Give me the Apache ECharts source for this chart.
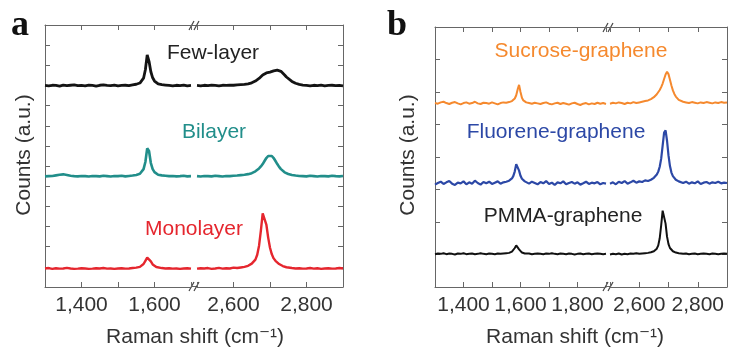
<!DOCTYPE html>
<html>
<head>
<meta charset="utf-8">
<script src="https://cdn.jsdelivr.net/npm/echarts@6/dist/echarts.min.js"></script>
<style>
html, body { margin: 0; padding: 0; background: #fff; }
#chart { width: 730px; height: 347px; }
</style>
</head>
<body>
<div id="chart"></div>
<script>
// Raman shift sample positions (cm-1), one list per axis segment
var xaLeft = [1300,1310,1320,1330,1340,1350,1360,1370,1380,1390,1400,1410,1420,1430,1440,1450,1460,1470,1480,1490,1500,1510,1520,1530,1540,1550,1560,
    1565,1570,1575,1580,1585,1590,1595,1600,1605,
    1610,1620,1630,1640,1650,1660,1670,1680,1690,1700];
var xaRight = [2500,2510,2520,2530,2540,2550,2560,2570,2580,2590,2600,2610,2620,2630,2640,
    2645,2650,2655,2660,2665,2670,2675,2680,2685,2690,2695,2700,2705,2710,2715,2720,2725,2730,2735,2740,2745,
    2750,2760,2770,2780,2790,2800,2810,2820,2830,2840,2850,2860,2870,2880,2890,2900];
var xbLeft = [1300,1310,1320,1330,1340,1350,1360,1370,1380,1390,1400,1410,1420,1430,1440,1450,1460,1470,1480,1490,1500,1510,1520,1530,1540,1550,1560,
    1565,1570,1575,1580,1585,1590,1595,1600,1605,1610,1615,
    1620,1630,1640,1650,1660,1670,1680,1690,1700,1710,1720,1730,1740,1750,1760,1770,1780,1790,1800,1810,1820,1830,1840,1850,1860,1870,1880,1890,1900];
var xbRight = [2500,2510,2520,2530,2540,2550,2560,2570,2580,2590,2600,2610,2620,2630,2640,
    2645,2650,2655,2660,2665,2670,2675,2680,2685,2690,2695,2700,2705,2710,2715,2720,2725,2730,2735,2740,
    2750,2760,2770,2780,2790,2800,2810,2820,2830,2840,2850,2860,2870,2880,2890,2900];

// panel a counts (a.u., offset stacked)
var fewLeft = [10.00,9.98,10.01,10.00,9.97,10.02,9.99,10.01,10.03,9.99,10.00,9.98,10.02,10.00,9.97,10.01,10.03,10.00,9.99,10.02,9.98,10.00,10.01,9.99,10.03,10.06,10.12,
    10.20,10.36,10.78,11.52,11.20,10.68,10.38,10.22,10.13,
    10.08,10.04,10.02,10.00,9.98,10.01,9.99,10.02,9.98,10.00];
var fewRight = [10.00,9.98,10.01,9.99,10.02,10.00,9.98,10.01,10.00,10.02,10.01,10.03,10.04,10.05,10.08,
    10.10,10.13,10.17,10.22,10.28,10.35,10.43,10.52,10.58,10.62,10.63,10.66,10.68,10.72,10.75,10.76,10.74,10.70,10.62,10.52,10.42,
    10.33,10.20,10.11,10.05,10.02,10.00,9.98,10.01,9.99,10.02,9.98,10.00,10.01,9.99,10.00,9.98];
var biLeft = [5.49,5.50,5.51,5.54,5.57,5.59,5.56,5.52,5.50,5.49,5.51,5.50,5.48,5.51,5.50,5.49,5.52,5.50,5.48,5.51,5.50,5.52,5.49,5.51,5.53,5.56,5.62,
    5.70,5.85,6.20,6.88,6.75,6.15,5.85,5.70,5.62,
    5.57,5.54,5.52,5.50,5.51,5.49,5.50,5.52,5.49,5.50];
var biRight = [5.50,5.48,5.51,5.50,5.49,5.52,5.50,5.48,5.51,5.50,5.52,5.53,5.55,5.57,5.60,
    5.62,5.65,5.69,5.74,5.80,5.88,5.98,6.10,6.25,6.40,6.50,6.55,6.50,6.40,6.25,6.10,5.96,5.85,5.76,5.69,5.64,
    5.61,5.56,5.53,5.51,5.50,5.49,5.52,5.50,5.48,5.51,5.50,5.49,5.52,5.50,5.49,5.51];
var monoLeft = [0.92,0.94,0.90,0.93,0.91,0.92,0.95,0.92,0.90,0.91,0.93,0.92,0.90,0.91,0.93,0.92,0.94,0.91,0.92,0.90,0.92,0.93,0.91,0.92,0.94,0.96,1.00,
    1.05,1.14,1.30,1.46,1.42,1.27,1.12,1.04,0.99,
    0.96,0.94,0.92,0.93,0.91,0.92,0.90,0.92,0.93,0.91];
var monoRight = [0.91,0.93,0.92,0.94,0.90,0.92,0.95,0.91,0.93,0.92,0.96,0.94,0.97,1.00,1.05,
    1.10,1.16,1.24,1.36,1.60,2.05,2.80,3.65,3.72,3.10,2.45,1.95,1.62,1.42,1.30,1.21,1.14,1.08,1.04,1.00,0.98,
    0.96,0.94,0.92,0.93,0.91,0.92,0.94,0.91,0.93,0.90,0.92,0.93,0.91,0.92,0.94,0.92];

// panel b counts
var sucLeft = [5.66,5.64,5.68,5.70,5.66,5.63,5.67,5.69,5.65,5.62,5.66,5.68,5.64,5.66,5.70,5.65,5.63,5.67,5.66,5.64,5.68,5.65,5.62,5.66,5.68,5.67,5.69,
    5.70,5.72,5.75,5.80,5.90,6.08,6.22,6.00,5.82,5.74,5.70,
    5.68,5.66,5.64,5.67,5.65,5.63,5.66,5.68,5.64,5.62,5.65,5.67,5.63,5.66,5.64,5.61,5.65,5.67,5.63,5.60,5.64,5.66,5.62,5.65,5.63,5.67,5.64,5.66,5.63];
var sucRight = [5.64,5.67,5.65,5.68,5.66,5.63,5.67,5.65,5.69,5.66,5.68,5.70,5.72,5.74,5.78,
    5.80,5.84,5.88,5.93,5.99,6.06,6.15,6.26,6.40,6.54,6.62,6.55,6.38,6.20,6.05,5.94,5.86,5.80,5.76,5.73,
    5.70,5.68,5.66,5.69,5.67,5.65,5.68,5.66,5.69,5.67,5.65,5.68,5.66,5.69,5.67,5.68];
var fluLeft = [3.15,3.20,3.24,3.17,3.22,3.26,3.18,3.14,3.21,3.19,3.25,3.16,3.22,3.18,3.27,3.20,3.15,3.23,3.19,3.24,3.17,3.21,3.25,3.18,3.22,3.24,3.27,
    3.30,3.34,3.42,3.56,3.78,3.84,3.58,3.42,3.33,3.28,3.25,
    3.22,3.18,3.24,3.20,3.16,3.23,3.19,3.26,3.17,3.21,3.14,3.22,3.19,3.25,3.16,3.20,3.23,3.18,3.22,3.15,3.19,3.24,3.17,3.21,3.19,3.23,3.16,3.20,3.18];
var fluRight = [3.18,3.22,3.16,3.24,3.20,3.26,3.18,3.22,3.27,3.21,3.25,3.23,3.28,3.26,3.30,
    3.33,3.36,3.40,3.46,3.55,3.70,3.95,4.35,4.75,4.82,4.50,4.05,3.72,3.52,3.41,3.35,3.30,3.27,3.25,3.23,
    3.20,3.24,3.18,3.22,3.19,3.25,3.17,3.21,3.23,3.18,3.22,3.20,3.24,3.19,3.21,3.20];
var pmmaLeft = [1.01,1.03,1.02,1.04,1.01,1.03,1.02,1.00,1.03,1.02,1.04,1.01,1.02,1.03,1.01,1.02,1.04,1.02,1.01,1.03,1.02,1.01,1.03,1.02,1.03,1.04,1.05,
    1.07,1.09,1.13,1.20,1.28,1.25,1.16,1.10,1.06,1.04,1.03,
    1.02,1.03,1.01,1.02,1.03,1.02,1.01,1.03,1.02,1.04,1.02,1.01,1.03,1.02,1.01,1.03,1.02,1.00,1.02,1.03,1.01,1.02,1.03,1.01,1.02,1.03,1.02,1.01,1.02];
var pmmaRight = [1.00,1.02,1.01,1.03,1.00,1.02,1.01,1.03,1.02,1.04,1.02,1.03,1.04,1.05,1.07,
    1.08,1.10,1.13,1.18,1.28,1.50,1.90,2.35,2.38,1.95,1.55,1.32,1.20,1.14,1.10,1.08,1.06,1.05,1.04,1.03,
    1.02,1.03,1.01,1.02,1.03,1.01,1.02,1.03,1.02,1.01,1.03,1.02,1.01,1.02,1.03,1.02];

var tickLabelsA = [1400, 1600, 2600, 2800];
var tickLabelsB = [1400, 1600, 1800, 2600, 2800];

var font = 'Liberation Sans, Arial, Helvetica, DejaVu Sans, sans-serif';
var axisColor = '#666';

function zip(xs, ys) {
    return xs.map(function (x, i) { return [x, ys[i]]; });
}
function fmt(v) {
    return String(v).replace(/(\d)(\d{3})$/, '$1,$2');
}

// four grids: each panel is split in two at the axis break
var grids = [
    {left: 45, top: 25, width: 146, height: 262},
    {left: 197, top: 25, width: 146, height: 262},
    {left: 435, top: 27, width: 171, height: 260},
    {left: 610, top: 27, width: 121, height: 260}
];
var xRanges = [[1300, 1700], [2500, 2900], [1300, 1900], [2500, 2900]];
var xLabelSets = [tickLabelsA, tickLabelsA, tickLabelsB, tickLabelsB];
var yMax = [13, 13, 8, 8];

var xAxes = [], yAxes = [];
grids.forEach(function (g, i) {
    var labels = xLabelSets[i];
    ['bottom', 'top'].forEach(function (pos) {
        xAxes.push({
            type: 'value', gridIndex: i, position: pos,
            min: xRanges[i][0], max: xRanges[i][1], interval: 100,
            axisLine: {show: true, lineStyle: {color: axisColor, width: 1}},
            axisTick: {show: true, inside: true, length: 5, lineStyle: {color: axisColor}},
            axisLabel: {
                show: pos === 'bottom', margin: 8, fontSize: 21, color: '#333', fontFamily: font,
                formatter: function (v) { return labels.indexOf(v) >= 0 ? fmt(v) : ''; }
            },
            splitLine: {show: false}
        });
    });
    yAxes.push({
        type: 'value', gridIndex: i, position: i % 2 === 0 ? 'left' : 'right',
        min: 0, max: yMax[i], interval: 1,
        axisLine: {show: true, lineStyle: {color: axisColor, width: 1}},
        axisTick: {show: true, inside: true, length: 5, lineStyle: {color: axisColor}},
        axisLabel: {show: false},
        splitLine: {show: false}
    });
});

function line(name, grid, xs, ys, color, width) {
    return {
        name: name, type: 'line', xAxisIndex: grid * 2, yAxisIndex: grid,
        data: zip(xs, ys), showSymbol: false, symbol: 'none',
        lineStyle: {color: color, width: width}, animation: false
    };
}

var black = '#141414', teal = '#218e8a', red = '#e5262e';
var orange = '#f5892e', blue = '#2c48a6', black2 = '#111111';

var series = [
    line('Few-layer', 0, xaLeft, fewLeft, black, 2.8),
    line('Few-layer', 1, xaRight, fewRight, black, 2.8),
    line('Bilayer', 0, xaLeft, biLeft, teal, 2.6),
    line('Bilayer', 1, xaRight, biRight, teal, 2.6),
    line('Monolayer', 0, xaLeft, monoLeft, red, 2.4),
    line('Monolayer', 1, xaRight, monoRight, red, 2.4),
    line('Sucrose-graphene', 2, xbLeft, sucLeft, orange, 2),
    line('Sucrose-graphene', 3, xbRight, sucRight, orange, 2),
    line('Fluorene-graphene', 2, xbLeft, fluLeft, blue, 2.2),
    line('Fluorene-graphene', 3, xbRight, fluRight, blue, 2.2),
    line('PMMA-graphene', 2, xbLeft, pmmaLeft, black2, 2),
    line('PMMA-graphene', 3, xbRight, pmmaRight, black2, 2)
];

function label(text, x, y, color, extra) {
    var el = {
        type: 'text', x: x, y: y, silent: true,
        style: {text: text, fill: color, fontSize: 21, fontFamily: font, align: 'center', verticalAlign: 'middle'}
    };
    if (extra) { for (var k in extra) el[k] = extra[k]; }
    return el;
}
function breakMark(cx, cy) {
    return [-2.5, 2.5].map(function (d) {
        return {
            type: 'line', silent: true,
            shape: {x1: cx + d - 2.5, y1: cy + 4.5, x2: cx + d + 2.5, y2: cy - 4.5},
            style: {stroke: '#444', lineWidth: 1.2}
        };
    });
}
function gapLine(x1, x2, y) {
    return {type: 'line', silent: true, shape: {x1: x1, y1: y, x2: x2, y2: y},
        style: {stroke: axisColor, lineWidth: 1}};
}

var graphic = [
    {type: 'text', x: 20, y: 26, silent: true,
        style: {text: 'a', fill: '#111', fontSize: 36, fontWeight: 'bold', fontFamily: 'Liberation Serif, Times New Roman, serif', align: 'center', verticalAlign: 'middle'}},
    {type: 'text', x: 397, y: 26, silent: true,
        style: {text: 'b', fill: '#111', fontSize: 36, fontWeight: 'bold', fontFamily: 'Liberation Serif, Times New Roman, serif', align: 'center', verticalAlign: 'middle'}},
    label('Few-layer', 213, 53, '#222'),
    label('Bilayer', 214, 132, teal),
    label('Monolayer', 194, 229, red),
    label('Sucrose-graphene', 581, 51, orange),
    label('Fluorene-graphene', 556, 132, blue),
    label('PMMA-graphene', 563, 216, '#222'),
    label('Raman shift (cm\u207B\u00B9)', 195, 337, '#333'),
    label('Raman shift (cm\u207B\u00B9)', 575, 337, '#333'),
    label('Counts (a.u.)', 24, 155, '#333', {rotation: Math.PI / 2}),
    label('Counts (a.u.)', 408, 155, '#333', {rotation: Math.PI / 2}),
    gapLine(191, 197, 25.5),
    gapLine(191, 197, 286.5),
    gapLine(606, 610, 27.5),
    gapLine(606, 610, 286.5)
].concat(breakMark(194, 25.5), breakMark(194, 286.5), breakMark(608, 27.5), breakMark(608, 286.5));

var chart = echarts.init(document.getElementById('chart'));
chart.setOption({
    animation: false,
    backgroundColor: '#fff',
    grid: grids,
    xAxis: xAxes,
    yAxis: yAxes,
    series: series,
    graphic: graphic
});
</script>
</body>
</html>
